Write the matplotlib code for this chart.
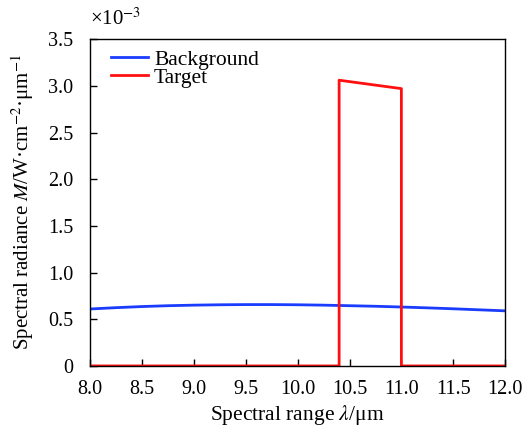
import matplotlib

matplotlib.use("Agg")
import matplotlib.pyplot as plt
import numpy as np

plt.rcParams["font.family"] = ["Liberation Serif", "DejaVu Serif"]
plt.rcParams["mathtext.fontset"] = "stix"

# Spectral range (um) and radiance (x1e-3 W·cm^-2·um^-1)
wavelength_bg = [8.0, 8.25, 8.5, 8.75, 9.0, 9.25, 9.5, 9.75, 10.0,
                 10.25, 10.5, 10.75, 11.0, 11.25, 11.5, 11.75, 12.0]
background = [0.610, 0.624, 0.636, 0.645, 0.651, 0.655, 0.657, 0.657, 0.655,
              0.651, 0.645, 0.639, 0.631, 0.622, 0.612, 0.601, 0.590]

wavelength_tg = [8.0, 10.4, 10.4, 11.0, 11.0, 12.0]
target = [0.0, 0.0, 3.06, 2.97, 0.0, 0.0]

fig = plt.figure(figsize=(5.24, 4.3), dpi=100)
ax = fig.add_axes([0.172, 0.149, 0.792, 0.760])

ax.plot(wavelength_bg, background, color="#1a3cff", lw=2.0, label="Background")
ax.plot(wavelength_tg, target, color="#ff1010", lw=2.0, label="Target")

ax.set_xlim(8.0, 12.0)
ax.set_ylim(0, 3.5)
ax.set_xticks(np.arange(8.0, 12.01, 0.5))
ax.set_yticks(np.arange(0, 3.51, 0.5))
ax.set_yticklabels(["0"] + [f"{v:.1f}" for v in np.arange(0.5, 3.51, 0.5)])
ax.tick_params(direction="in", labelsize=14.5, length=5, width=1,
               top=False, right=False)
ax.tick_params(axis="x", pad=10)
ax.tick_params(axis="y", pad=12)
for s in ax.spines.values():
    s.set_linewidth(1.0)

ax.set_xlabel(r"Spectral range $\lambda$/μm", fontsize=15.5, labelpad=3)
ax.set_ylabel(r"Spectral radiance $M$/W·cm$^{-2}$·μm$^{-1}$", fontsize=15, labelpad=9)
ax.text(0.0, 1.03, r"×10$^{-3}$", transform=ax.transAxes, fontsize=15,
        ha="left", va="bottom")

ax.legend(loc="upper left", frameon=False, fontsize=15.5, handlelength=1.7,
          handletextpad=0.28, labelspacing=-0.1, borderaxespad=0.2,
          bbox_to_anchor=(0.02, 1.007))

plt.savefig("out.png", dpi=100)
plt.close()
